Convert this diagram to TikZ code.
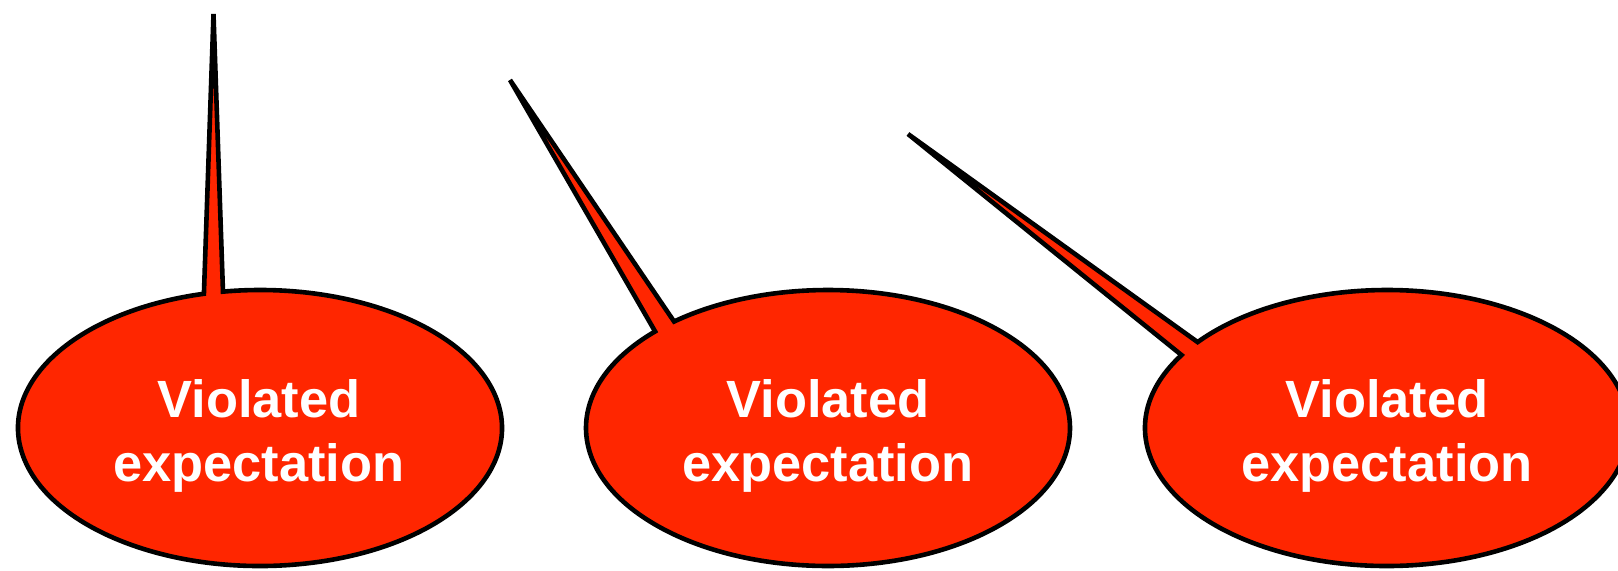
\documentclass[tikz,border=0pt]{standalone}
\usepackage{fontspec}
\setmainfont{Liberation Sans}
\usepackage{xcolor}
\usetikzlibrary{calc,backgrounds}
\definecolor{alertred}{HTML}{FF2600}
\tikzset{
  bubble/.style={draw=black,fill=alertred,line width=2.3pt},
  bubbletext/.style={text=white,align=center,font=\fontsize{26.2}{32.2}\selectfont\bfseries,inner sep=0pt}
}

\begin{document}
\begin{tikzpicture}[x=0.5pt,y=0.5pt]
  \useasboundingbox (0,0) rectangle (1618,570);
  \coordinate (c1) at (260,142);
  \coordinate (c2) at (828,142);
  \coordinate (c3) at (1387,142);
  \node[bubbletext] (exp1) at (259,134) {Violated\\expectation};
  \node[bubbletext] (exp2) at (828,134) {Violated\\expectation};
  \node[bubbletext] (exp3) at (1387,134) {Violated\\expectation};
  \coordinate (tip1) at (213.5,556);
  \coordinate (tip2) at (510,490);
  \coordinate (tip3) at (908,436);
  \begin{scope}[on background layer]
    \draw[bubble] ($(c1)+(98.8:121pt and 69pt)$) -- (tip1) -- ($(c1)+(103.4:121pt and 69pt)$)
      arc[start angle=103.4,end angle=458.8,x radius=121pt,y radius=69pt] -- cycle;
    \draw[bubble] ($(c2)+(129.5:121pt and 69pt)$) -- (tip2) -- ($(c2)+(135.6:121pt and 69pt)$)
      arc[start angle=135.6,end angle=489.5,x radius=121pt,y radius=69pt] -- cycle;
    \draw[bubble] ($(c3)+(141.5:121pt and 69pt)$) -- (tip3) -- ($(c3)+(148.1:121pt and 69pt)$)
      arc[start angle=148.1,end angle=501.5,x radius=121pt,y radius=69pt] -- cycle;
  \end{scope}
\end{tikzpicture}
\end{document}
